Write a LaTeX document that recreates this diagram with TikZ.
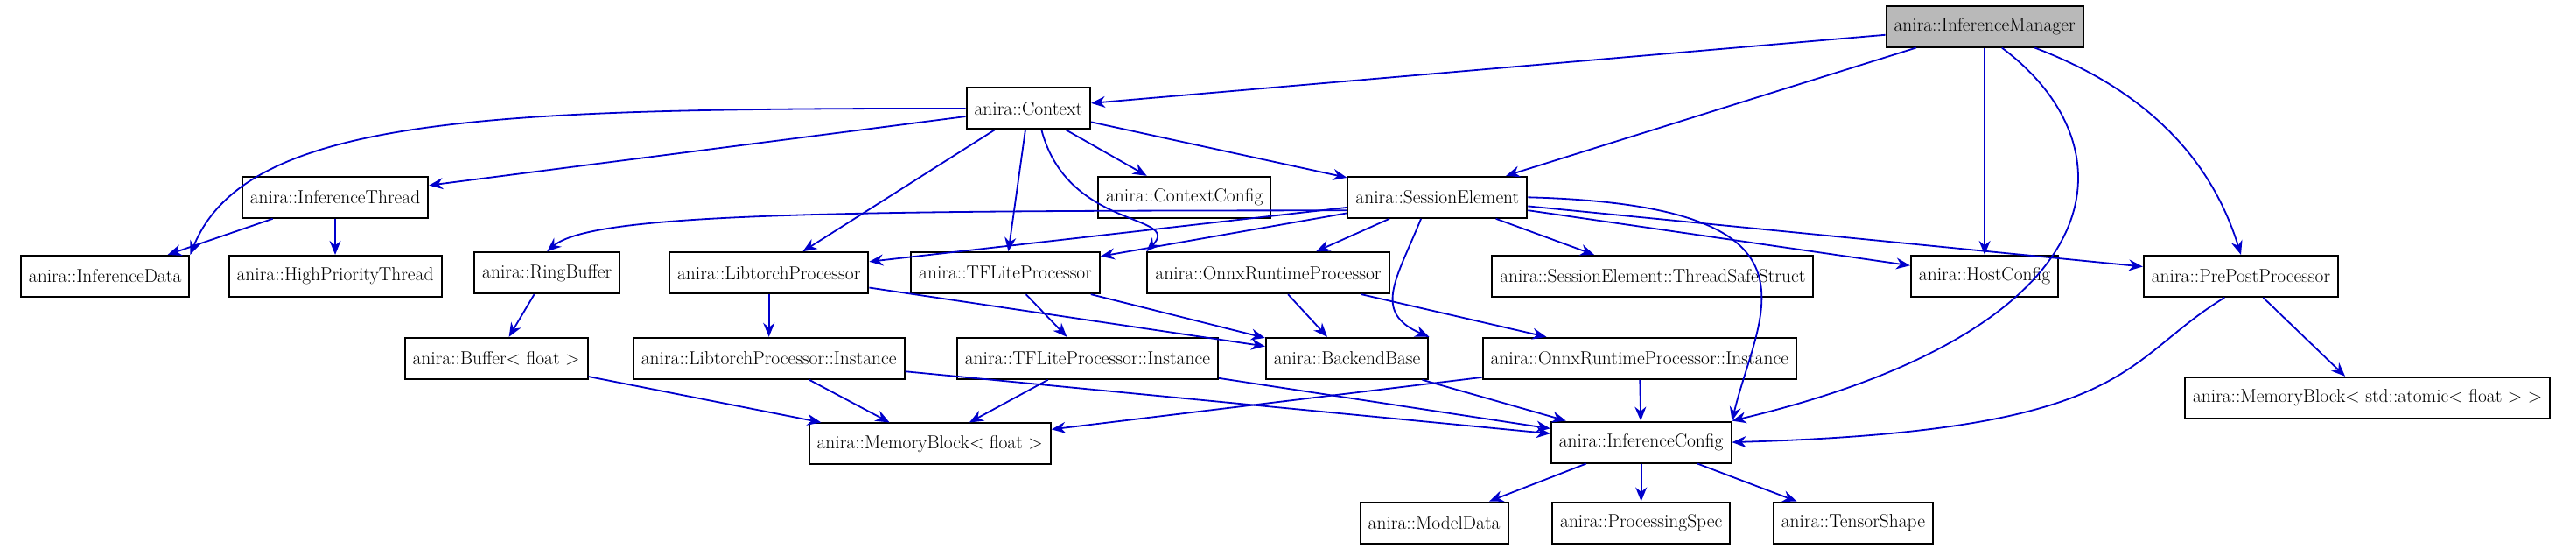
\documentclass[tikz,border=0pt]{standalone}
\usetikzlibrary{arrows.meta}
\begin{document}
\begin{tikzpicture}[x=1.8776pt,y=-1.8776pt,
  n/.style={draw,line width=2pt,minimum height=47pt,inner xsep=9pt,font=\fontsize{21.5}{26}\selectfont},
  e/.style={draw=blue!80!black,-{Stealth[length=16pt,width=13pt]},line width=1.8pt}]
\useasboundingbox (0,0) rectangle (1568,338.2);
\node[n,fill=gray!55] (im) at (1208,16) {anira::InferenceManager};
\node[n] (ctx) at (626,66) {anira::Context};
\node[n] (se) at (875,120) {anira::SessionElement};
\node[n] (it) at (204,120) {anira::InferenceThread};
\node[n] (cc) at (721,120) {anira::ContextConfig};
\node[n] (id) at (64,168) {anira::InferenceData};
\node[n] (hp) at (204,168) {anira::HighPriorityThread};
\node[n] (rb) at (333,166) {anira::RingBuffer};
\node[n] (lp) at (468,166) {anira::LibtorchProcessor};
\node[n] (tp) at (612,166) {anira::TFLiteProcessor};
\node[n] (op) at (772,166) {anira::OnnxRuntimeProcessor};
\node[n] (ts) at (1006,168) {anira::SessionElement::ThreadSafeStruct};
\node[n] (hc) at (1208,168) {anira::HostConfig};
\node[n] (pp) at (1364,168) {anira::PrePostProcessor};
\node[n] (bf) at (302,218) {anira::Buffer< float >};
\node[n] (li) at (468,218) {anira::LibtorchProcessor::Instance};
\node[n] (ti) at (662,218) {anira::TFLiteProcessor::Instance};
\node[n] (bb) at (820,218) {anira::BackendBase};
\node[n] (oi) at (998,218) {anira::OnnxRuntimeProcessor::Instance};
\node[n] (ma) at (1441,242) {anira::MemoryBlock< std::atomic< float > >};
\node[n] (mf) at (566,270) {anira::MemoryBlock< float >};
\node[n] (ic) at (999,269) {anira::InferenceConfig};
\node[n] (md) at (873,318) {anira::ModelData};
\node[n] (ps) at (999,318) {anira::ProcessingSpec};
\node[n] (tsh) at (1128,318) {anira::TensorShape};
\path[e] (im) -- (ctx);
\path[e] (im) -- (se);
\path[e] (im) -- (hc);
\path[e] (im.south east) ++(-50,0) .. controls (1300,90) and (1290,200) .. (ic.north east);
\path[e] (im.south east) ++(-30,0) .. controls (1320,60) and (1350,110) .. (pp.north);
\path[e] (ctx.west) .. controls (300,66) and (150,70) .. (id.north east);
\path[e] (ctx) -- (it);
\path[e] (ctx) -- (lp);
\path[e] (ctx) -- (tp);
\path[e] (ctx.south) ++(8,0) .. controls (650,140) and (720,130) .. (op.north west);
\path[e] (ctx) -- (cc);
\path[e] (ctx) -- (se);
\path[e] (it) -- (id);
\path[e] (it) -- (hp);
\path[e] (se.west) ++(0,8) .. controls (500,128) and (360,130) .. (rb.north);
\path[e] (se) -- (lp);
\path[e] (se) -- (tp);
\path[e] (se) -- (op);
\path[e] (se.south) ++(-10,0) .. controls (850,170) and (835,190) .. (bb.north east);
\path[e] (se) -- (ts);
\path[e] (se) -- (hc);
\path[e] (se) -- (pp);
\path[e] (se.east) .. controls (1120,125) and (1070,190) .. (ic.north east);
\path[e] (rb) -- (bf);
\path[e] (lp) -- (li);
\path[e] (lp) -- (bb);
\path[e] (tp) -- (ti);
\path[e] (tp) -- (bb);
\path[e] (op) -- (bb);
\path[e] (op) -- (oi);
\path[e] (pp) -- (ma);
\path[e] (pp.south) ++(-10,0) .. controls (1290,220) and (1300,262) .. (ic.east);
\path[e] (bf) -- (mf);
\path[e] (li) -- (mf);
\path[e] (li) -- (ic);
\path[e] (ti) -- (mf);
\path[e] (ti) -- (ic);
\path[e] (bb) -- (ic);
\path[e] (oi) -- (mf);
\path[e] (oi) -- (ic);
\path[e] (ic) -- (md);
\path[e] (ic) -- (ps);
\path[e] (ic) -- (tsh);
\end{tikzpicture}
\end{document}
